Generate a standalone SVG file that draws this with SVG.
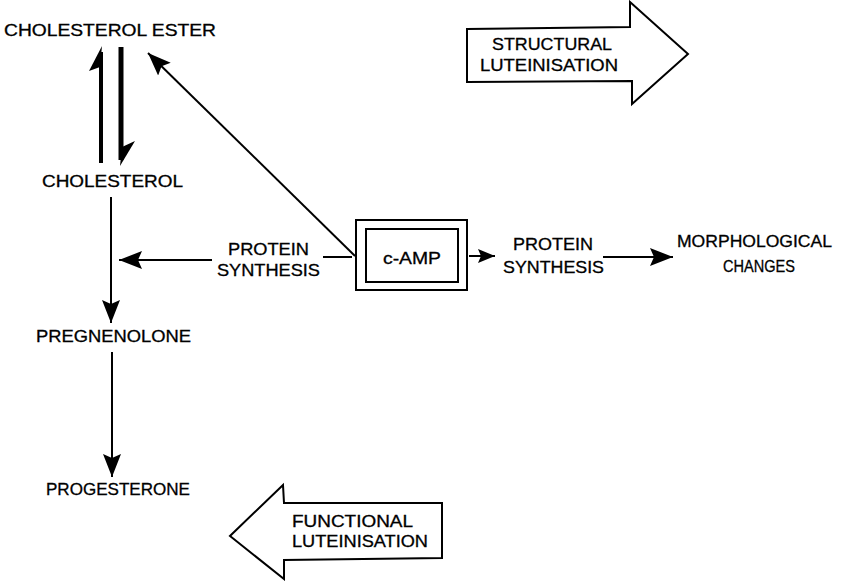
<svg xmlns="http://www.w3.org/2000/svg" width="843" height="581" viewBox="0 0 843 581">
<defs>
<style>
text{font-family:"Liberation Sans",Arial,sans-serif;font-size:16.5px;fill:#000;stroke:#000;stroke-width:0.3;}
.ln{stroke:#000;stroke-width:2;fill:none;}
.bx{stroke:#000;stroke-width:2;fill:#fff;}
.hd{fill:#000;stroke:none;}
</style>
<marker id="big" markerUnits="userSpaceOnUse" markerWidth="24" markerHeight="20" viewBox="0 0 24 20" refX="23" refY="10" orient="auto">
<path d="M0,1 L23,10 L0,19 L4,10 Z" class="hd"/>
</marker>
<marker id="small" markerUnits="userSpaceOnUse" markerWidth="18" markerHeight="16" viewBox="0 0 18 16" refX="17" refY="8" orient="auto">
<path d="M0,1 L17,8 L0,15 L3,8 Z" class="hd"/>
</marker>
</defs>
<rect width="843" height="581" fill="#fff"/>

<g id="connectors">
<path class="ln" d="M355,256 L148,53" marker-end="url(#big)"/>
<path class="ln" d="M111,197 L111,323" marker-end="url(#big)"/>
<path class="ln" d="M112,352 L112,477" marker-end="url(#big)"/>
<path class="ln" d="M323,257 L352,257"/>
<path class="ln" d="M212,260 L119,260" marker-end="url(#big)"/>
<path class="ln" d="M469,256 L495,256" marker-end="url(#small)"/>
<path class="ln" d="M603,257 L673,257" marker-end="url(#big)"/>
<g id="harpoon-up">
<path d="M101,163 L101,52" stroke="#000" stroke-width="4" fill="none"/>
<path d="M102,46 L89,71 L100,67 Z" class="hd"/>
</g>
<g id="harpoon-down">
<path d="M121,47 L121,160" stroke="#000" stroke-width="5" fill="none"/>
<path d="M120,166 L135,141 L122,147 Z" class="hd"/>
</g>
</g>

<g id="cholesterol-ester"><text x="4" y="36" textLength="212" lengthAdjust="spacingAndGlyphs">CHOLESTEROL ESTER</text></g>
<g id="cholesterol"><text x="42" y="187" textLength="141" lengthAdjust="spacingAndGlyphs">CHOLESTEROL</text></g>
<g id="pregnenolone"><text x="36" y="342" textLength="155" lengthAdjust="spacingAndGlyphs">PREGNENOLONE</text></g>
<g id="progesterone"><text x="46" y="495" textLength="144" lengthAdjust="spacingAndGlyphs">PROGESTERONE</text></g>

<g id="protein-synthesis-left">
<text x="228" y="255" textLength="81" lengthAdjust="spacingAndGlyphs">PROTEIN</text>
<text x="217" y="276" textLength="103" lengthAdjust="spacingAndGlyphs">SYNTHESIS</text>
</g>

<g id="c-amp">
<rect class="bx" x="356" y="220" width="111" height="70"/>
<rect class="bx" x="366" y="229" width="92" height="53"/>
<text x="383" y="264" textLength="58" lengthAdjust="spacingAndGlyphs">c-AMP</text>
</g>

<g id="protein-synthesis-right">
<text x="513" y="250" textLength="80" lengthAdjust="spacingAndGlyphs">PROTEIN</text>
<text x="503" y="273" textLength="101" lengthAdjust="spacingAndGlyphs">SYNTHESIS</text>
</g>

<g id="morphological-changes">
<text x="677" y="247" textLength="155" lengthAdjust="spacingAndGlyphs">MORPHOLOGICAL</text>
<text x="723" y="272" textLength="72" lengthAdjust="spacingAndGlyphs">CHANGES</text>
</g>

<g id="structural-luteinisation">
<polygon class="bx" points="467,29 630,27 630,2 688,54 632,104 632,81 467,82"/>
<text x="492" y="50" textLength="120" lengthAdjust="spacingAndGlyphs">STRUCTURAL</text>
<text x="480" y="71" textLength="138" lengthAdjust="spacingAndGlyphs">LUTEINISATION</text>
</g>

<g id="functional-luteinisation">
<polygon class="bx" points="442,503 284,503 283,485 230,536 284,579 284,560 442,558"/>
<text x="292" y="527" textLength="121" lengthAdjust="spacingAndGlyphs">FUNCTIONAL</text>
<text x="292" y="547" textLength="136" lengthAdjust="spacingAndGlyphs">LUTEINISATION</text>
</g>
</svg>
